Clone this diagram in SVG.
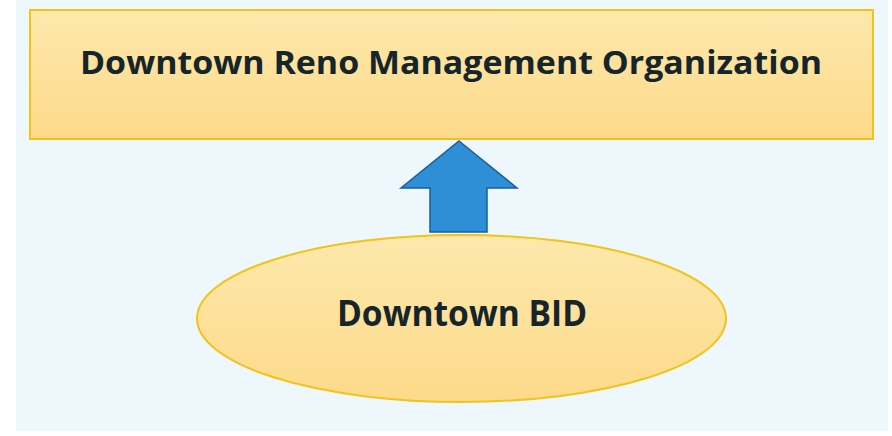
<svg xmlns="http://www.w3.org/2000/svg" width="892" height="436" viewBox="0 0 892 436">
  <style>
    .label { font-family: "Open Sans", "Liberation Sans", sans-serif; font-weight: bold; fill: #16252a; text-anchor: middle; }
    .box { fill: url(#boxFill); stroke: #f0c419; stroke-width: 2; }
  </style>
  <defs>
    <linearGradient id="boxFill" x1="0" y1="0" x2="0" y2="1">
      <stop offset="0" stop-color="#fde8ac"/>
      <stop offset="1" stop-color="#fdda8a"/>
    </linearGradient>
  </defs>
  <rect x="0" y="0" width="892" height="436" fill="#ffffff"/>
  <rect x="16" y="0" width="872" height="431" fill="#eef7fb"/>

  <g id="org">
    <rect class="box" x="30" y="10" width="843" height="129"/>
    <text class="label" x="451" y="74" font-size="33" textLength="742" lengthAdjust="spacingAndGlyphs">Downtown Reno Management Organization</text>
  </g>

  <g id="connectors">
    <polygon points="459,141 517,188 487,188 487,232 430,232 430,188 401,188" fill="#2f8fd6" stroke="#1a5f99" stroke-width="1.5" stroke-linejoin="miter"/>
  </g>

  <g id="bid">
    <ellipse class="box" cx="461.5" cy="318.5" rx="264.5" ry="83.5"/>
    <text class="label" x="462" y="326" font-size="35" textLength="250" lengthAdjust="spacingAndGlyphs">Downtown BID</text>
  </g>
</svg>
